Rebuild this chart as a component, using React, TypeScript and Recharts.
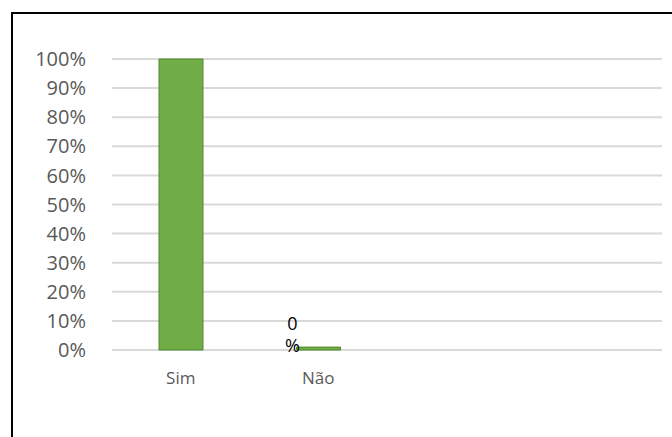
import { Bar, BarChart, CartesianGrid, LabelList, XAxis, YAxis } from "recharts";

const categories = ["Sim", "Não", "", ""];
const values = [100, 1, null, null];
const valueLabels = ["", "0 %", "", ""];
const yTicks = [0, 10, 20, 30, 40, 50, 60, 70, 80, 90, 100];

const data = categories.map((name, i) => ({
  key: `c${i}`,
  name,
  value: values[i],
  label: valueLabels[i],
}));

// the data label wraps onto two lines in the original
function WrappedLabel(props: any) {
  const { x, y, width, value } = props;
  if (!value) return null;
  const parts = String(value).split(" ");
  const cx = x + width / 2 - 26;
  return (
    <g>
      {parts.map((p, i) => (
        <text key={i} x={cx} y={y - 17 + i * 22} textAnchor="middle" fontSize={18} fill="#000" fontFamily="Open Sans">
          {p}
        </text>
      ))}
    </g>
  );
}

export default function App() {
  return (
    <div style={{ position: "absolute", left: 0, top: 0, width: 672, height: 437, overflow: "hidden", background: "#fff" }}>
      <div
        style={{
          position: "absolute",
          left: 11,
          top: 12,
          width: 720,
          height: 500,
          border: "2px solid #000",
          boxSizing: "border-box",
        }}
      />
      <BarChart
        width={672}
        height={437}
        data={data}
        margin={{ top: 59, right: 10, bottom: 86, left: 12 }}
        barSize={44}
        style={{ position: "absolute", left: 0, top: 0, fontFamily: "Open Sans" }}
      >
        <CartesianGrid vertical={false} stroke="#d9d9d9" strokeWidth={2} />
        <XAxis
          dataKey="key"
          height={1}
          tickFormatter={(v, i) => categories[i] ?? ""}
          axisLine={false}
          tickLine={false}
          tickSize={0}
          tickMargin={22}
          tick={{ fontSize: 17, fill: "#595959" }}
        />
        <YAxis
          domain={[0, 100]}
          ticks={yTicks}
          tickFormatter={(v) => `${v}%`}
          axisLine={false}
          tickLine={false}
          tickSize={0}
          tickMargin={26}
          width={100}
          interval={0}
          tick={{ fontSize: 20, fill: "#595959" }}
        />
        <Bar dataKey="value" fill="#70ad47" stroke="#4f8a2c" strokeWidth={1} isAnimationActive={false}>
          <LabelList dataKey="label" content={<WrappedLabel />} />
        </Bar>
      </BarChart>
    </div>
  );
}
